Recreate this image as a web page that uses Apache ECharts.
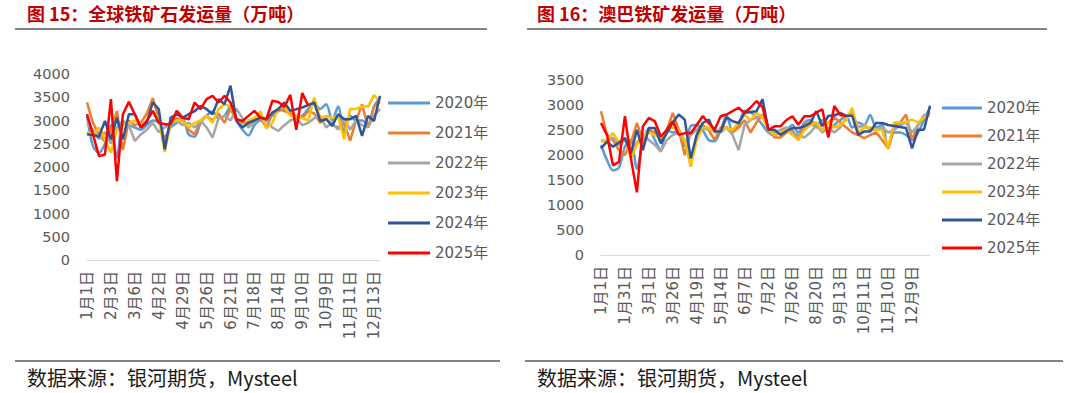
<!DOCTYPE html>
<html>
<head>
<meta charset="utf-8">
<script src="https://cdn.jsdelivr.net/npm/echarts@6/dist/echarts.min.js"></script>
<style>
html,body{margin:0;padding:0;background:#fff;}
#c{width:1080px;height:393px;}
</style>
</head>
<body>
<div id="c"></div>
<script>
// ---- categories / tick labels ----
const catsLeft = ['1月1日','1月9日','1月17日','1月25日','2月3日','2月11日','2月19日','2月27日','3月6日','3月13日',
  '3月20日','3月27日','4月2日','4月9日','4月16日','4月22日','4月29日','5月6日','5月13日','5月19日',
  '5月26日','6月2日','6月9日','6月15日','6月21日','6月28日','7月5日','7月11日','7月18日','7月25日',
  '8月1日','8月7日','8月14日','8月21日','8月28日','9月3日','9月10日','9月17日','9月24日','10月1日',
  '10月9日','10月17日','10月25日','11月2日','11月11日','11月19日','11月27日','12月5日','12月13日','12月21日'];
const catsRight = ['1月1日','1月8日','1月16日','1月23日','1月31日','2月7日','2月15日','2月22日','3月1日','3月7日',
  '3月13日','3月19日','3月26日','4月1日','4月7日','4月13日','4月19日','4月25日','5月2日','5月8日',
  '5月14日','5月20日','5月26日','6月1日','6月7日','6月13日','6月20日','6月26日','7月2日','7月8日',
  '7月14日','7月20日','7月26日','8月1日','8月8日','8月14日','8月20日','8月26日','9月1日','9月7日',
  '9月13日','9月20日','9月27日','10月4日','10月11日','10月19日','10月27日','11月3日','11月10日','11月17日',
  '11月24日','12月2日','12月9日','12月16日','12月23日','12月30日'];
const years = ['2020年','2021年','2022年','2023年','2024年','2025年'];
const colors = ['#5B9BD5','#ED7D31','#A5A5A5','#FFC000','#2F5597','#FF0000'];

// ---- 图15 全球铁矿石发运量 (万吨) ----
const global2020 = [3100,2450,2306,2500,2900,2200,2950,2900,2850,2800,
  2900,3000,2950,2650,2850,2950,3050,2700,2650,2950,
  3100,3200,3050,3100,3300,3000,2800,2680,2900,3000,
  3000,3100,3200,3250,3150,3050,3100,3250,3350,3250,
  3350,3000,3300,2750,3100,3000,3000,2900,3300,3480];
const global2021 = [3390,2950,2700,2545,2800,3200,2365,3000,2900,2950,
  3150,3480,3050,2545,2950,3050,3000,2800,2700,3000,
  3100,3000,3150,2950,3250,3000,2950,2900,3000,3050,
  2850,3150,3250,3200,3150,3100,3050,3200,3150,2950,
  3050,2900,2850,2950,2560,3000,3350,2850,3300,3400];
const global2022 = [2950,2800,2600,2750,2500,2850,3000,2900,2560,2700,
  2800,2950,2750,2850,2950,3000,2900,2950,2850,3000,
  2850,2630,3050,3100,3000,3250,3050,2850,2950,3100,
  3000,2850,2775,2900,3000,3050,2900,2950,3050,3100,
  2850,2950,2800,3050,2800,3000,2900,2850,3100,3250];
const global2023 = [2750,2700,2850,2600,2306,2800,2900,2950,3000,2900,
  3000,3200,3050,2320,2950,3000,3000,2850,2950,3000,
  3100,2950,3250,3351,3300,3050,2850,3000,3050,3200,
  2825,2950,3250,3300,3100,3100,3050,3000,3495,3050,
  3100,3050,3100,2595,3250,3250,3300,3300,3546,3400];
const global2024 = [2703,2690,2652,2990,2595,3063,2595,3135,3135,2847,
  2955,3387,3243,2378,3063,3135,3063,3135,3200,3315,
  3243,3135,3460,3351,3748,2990,2847,2955,3000,3063,
  3027,3171,3243,3387,3207,3243,3280,3330,3387,2990,
  3027,2883,3135,3027,3027,3099,2667,3099,2990,3531];
const global2025 = [3135,2700,2234,2270,3460,1694,3135,3400,3135,2847,
  2990,3207,2955,2920,2920,3207,3062,3027,3387,3243,
  3460,3531,3387,3531,3387,3027,2990,3099,3207,3062,
  3027,3423,3400,3290,3550,2800,3590,3320];

// ---- 图16 澳巴铁矿发运量 (万吨) ----
const ausbra2020 = [2200,1900,1692,1750,2166,2300,1727,2250,2539,2300,
  2098,2505,2450,2500,2173,2580,2600,2500,2300,2275,
  2500,2783,2478,2600,2884,2850,2750,2600,2450,2400,
  2450,2500,2600,2450,2650,2700,2600,2700,2500,2600,
  2700,2780,2550,2650,2600,2800,2550,2600,2133,2450,
  2450,2400,2300,2450,2700,2950];
const ausbra2021 = [2877,2400,2300,2100,2000,2250,2640,2300,2500,2450,
  2300,2500,2843,2500,1997,2450,2500,2600,2500,2300,
  2550,2550,2450,2550,2700,2450,2650,2800,2500,2350,
  2350,2450,2500,2300,2600,2650,2550,2600,2650,2750,
  2650,2550,2450,2400,2336,2400,2450,2300,2133,2600,
  2650,2810,2302,2600,2750,2850];
const ausbra2022 = [2300,2250,2350,2200,2300,2100,2250,2400,2300,2200,
  2065,2300,2400,2450,2250,2400,2500,2550,2500,2500,
  2450,2550,2400,2098,2600,2700,2750,2800,2500,2450,
  2500,2550,2450,2400,2350,2450,2600,2450,2550,2450,
  2550,2750,2850,2550,2600,2500,2500,2550,2450,2500,
  2600,2650,2450,2600,2800,2800];
const ausbra2023 = [2268,2300,2437,2250,2350,1930,2200,2400,2450,2400,
  2350,2500,2550,2500,2300,1767,2300,2550,2550,2450,
  2500,2550,2500,2650,2800,2700,2843,2750,2500,2400,
  2450,2500,2400,2302,2500,2600,2650,2500,2650,2550,
  2600,2700,2945,2450,2550,2550,2500,2500,2133,2650,
  2650,2650,2710,2650,2750,2800];
const ausbra2024 = [2133,2268,2166,2250,2336,2031,2505,2099,2539,2539,
  2234,2437,2650,2810,2708,1930,2403,2640,2708,2471,
  2471,2755,2674,2640,2843,2860,2877,3114,2505,2505,
  2403,2480,2539,2539,2573,2640,2877,2580,2783,2790,
  2844,2783,2783,2403,2472,2472,2640,2640,2600,2580,
  2560,2540,2133,2505,2505,2986];
const ausbra2025 = [2640,2403,1794,1862,2776,1930,1252,2573,2742,2674,
  2370,2505,2674,2403,2437,2437,2600,2776,2640,2505,
  2776,2810,2877,2945,2843,2950,3080,2958,2505,2573,
  2573,2700,2776,2606,2776,2776,2850,2911,2350,2980,
  2800,2780];

const leftData = [global2020,global2021,global2022,global2023,global2024,global2025];
const rightData = [ausbra2020,ausbra2021,ausbra2022,ausbra2023,ausbra2024,ausbra2025];

const numFont = '"DejaVu Sans","Noto Sans CJK SC",sans-serif';
const cjkFont = '"Noto Sans CJK SC","DejaVu Sans",sans-serif';

function xAxisCfg(idx, cats){
  return {
    type:'category', gridIndex:idx, data:cats, boundaryGap:false,
    axisLine:{show:true, lineStyle:{color:'#D9D9D9', width:1}},
    axisTick:{show:false},
    axisLabel:{interval:3, rotate:90, margin:11, color:'#595959', fontSize:15, fontFamily:numFont},
    splitLine:{show:false}
  };
}
function yAxisCfg(idx, max){
  return {
    type:'value', gridIndex:idx, min:0, max:max, interval:500,
    axisLine:{show:false}, axisTick:{show:false}, splitLine:{show:false},
    axisLabel:{margin:17, color:'#595959', fontSize:14.5, fontFamily:numFont,
      formatter:function(v){return String(v);}}
  };
}
const series = [];
years.forEach((y,i)=>{
  series.push({name:y, type:'line', xAxisIndex:0, yAxisIndex:0, data:leftData[i],
    showSymbol:false, symbol:'none', smooth: i===0 ? 0.3 : false,
    lineStyle:{color:colors[i], width:2.5}, itemStyle:{color:colors[i]}, z:2+i});
});
years.forEach((y,i)=>{
  series.push({name:y, type:'line', xAxisIndex:1, yAxisIndex:1, data:rightData[i],
    showSymbol:false, symbol:'none', smooth: i===0 ? 0.3 : false,
    lineStyle:{color:colors[i], width:2.5}, itemStyle:{color:colors[i]}, z:2+i});
});
function legendCfg(left, top, gap, w){
  return {
    data:years, orient:'vertical', left:left, top:top, itemGap:gap, itemWidth:w, itemHeight:3,
    icon:'rect', selectedMode:false,
    textStyle:{color:'#595959', fontSize:15, fontFamily:numFont, lineHeight:20, padding:[0,0,0,0]}
  };
}
const chart = echarts.init(document.getElementById('c'), null, {renderer:'svg', width:1080, height:393});
chart.setOption({
  animation:false,
  backgroundColor:'#ffffff',
  grid:[
    {left:87, top:74, width:293, height:186, containLabel:false},
    {left:601, top:80, width:329, height:175, containLabel:false}
  ],
  xAxis:[xAxisCfg(0,catsLeft), xAxisCfg(1,catsRight)],
  yAxis:[yAxisCfg(0,4000), yAxisCfg(1,3500)],
  legend:[legendCfg(383,88,10,42), legendCfg(937,93,8,40)],
  series:series,
  graphic:[
    {type:'text', left:27, top:4, style:{text:'图 15：全球铁矿石发运量（万吨）', font:'bold 18px '+cjkFont, fill:'#C00000'}},
    {type:'text', left:537, top:4, style:{text:'图 16：澳巴铁矿发运量（万吨）', font:'bold 18px '+cjkFont, fill:'#C00000'}},
    {type:'line', shape:{x1:15,y1:29,x2:487,y2:29}, style:{stroke:'#595959', lineWidth:1.5}},
    {type:'line', shape:{x1:527,y1:29,x2:1047,y2:29}, style:{stroke:'#595959', lineWidth:1.5}},
    {type:'line', shape:{x1:15,y1:361,x2:500,y2:361}, style:{stroke:'#595959', lineWidth:1.5}},
    {type:'line', shape:{x1:525,y1:361,x2:1063,y2:361}, style:{stroke:'#595959', lineWidth:1.5}},
    {type:'text', left:27, top:367, style:{text:'数据来源：银河期货，Mysteel', font:'20px '+cjkFont, fill:'#1a1a1a'}},
    {type:'text', left:537, top:367, style:{text:'数据来源：银河期货，Mysteel', font:'20px '+cjkFont, fill:'#1a1a1a'}}
  ]
});
</script>
</body>
</html>
